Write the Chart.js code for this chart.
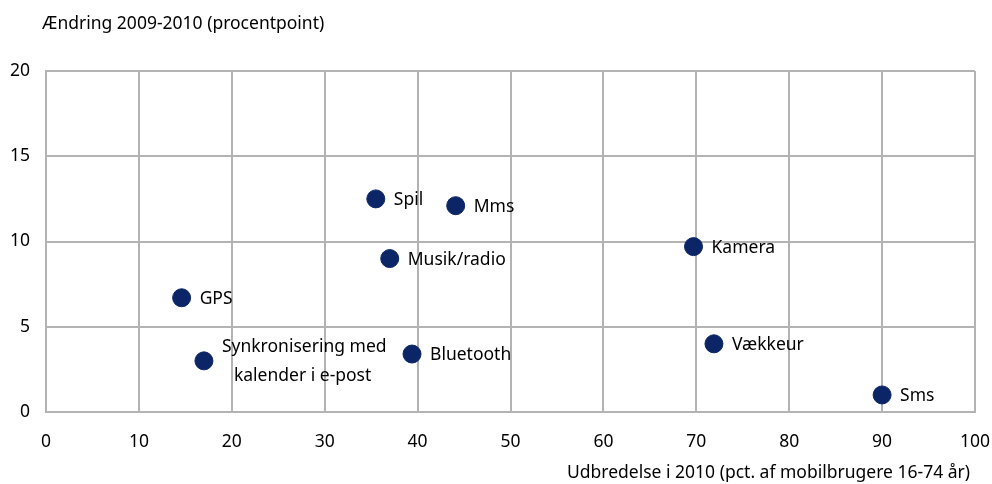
<!DOCTYPE html>
<html>
<head>
<meta charset="utf-8">
<script src="https://cdn.jsdelivr.net/npm/chart.js@4.4.1/dist/chart.umd.min.js"></script>
<style>
  html, body { margin: 0; padding: 0; background: #fff; }
  #wrap { width: 992px; height: 484px; }
</style>
</head>
<body>
<div id="wrap"><canvas id="chart" width="992" height="484"></canvas></div>
<script>
// mobiltjenester: udbredelse 2010 og ændring 2009-2010
const names = ['GPS', 'Synkronisering med|kalender i e-post', 'Spil', 'Musik/radio', 'Mms', 'Bluetooth', 'Kamera', 'Vækkeur', 'Sms'];
const spread = [14.6, 17.0, 35.5, 37.0, 44.1, 39.4, 69.7, 71.9, 90.0];
const change = [6.7, 3.0, 12.5, 9.0, 12.1, 3.4, 9.7, 4.0, 1.0];
const xTicks = [0, 10, 20, 30, 40, 50, 60, 70, 80, 90, 100];
const yTicks = [0, 5, 10, 15, 20];

const FONT = '"Noto Sans", sans-serif';
const SIZE = 17.5;
const gridColor = '#b3b3b3';
const dotColor = '#0b2566';

const points = spread.map((x, i) => ({ x: x, y: change[i], name: names[i] }));

// etiketter ved punkterne + aksetitler
const labelPlugin = {
    id: 'labels',
    afterDatasetsDraw(chart) {
        const ctx = chart.ctx;
        const meta = chart.getDatasetMeta(0);
        ctx.save();
        ctx.fillStyle = '#000';
        ctx.font = SIZE + 'px ' + FONT;
        ctx.textAlign = 'left';
        ctx.textBaseline = 'middle';
        meta.data.forEach((el, i) => {
            const lines = points[i].name.split('|');
            if (lines.length > 1) {
                ctx.fillText(lines[0], el.x + 18, el.y - 14);
                ctx.fillText(lines[1], el.x + 30, el.y + 15);
            } else {
                ctx.fillText(lines[0], el.x + 18, el.y + 1);
            }
        });
        ctx.textBaseline = 'alphabetic';
        ctx.fillText('Ændring 2009-2010 (procentpoint)', 42, 29);
        ctx.textAlign = 'right';
        ctx.fillText('Udbredelse i 2010 (pct. af mobilbrugere 16-74 år)', 970, 478);
        ctx.restore();
    }
};

new Chart(document.querySelector('#chart'), {
    type: 'scatter',
    data: {
        datasets: [{
            data: points,
            backgroundColor: dotColor,
            borderColor: dotColor,
            pointRadius: 9,
            pointHoverRadius: 9,
        }]
    },
    options: {
        responsive: false,
        animation: false,
        layout: { padding: { top: 71, right: 17, left: 0, bottom: 0 } },
        plugins: { legend: { display: false }, tooltip: { enabled: false } },
        scales: {
            x: {
                type: 'linear',
                min: 0, max: 100,
                afterBuildTicks: (axis) => { axis.ticks = xTicks.map(v => ({ value: v })); },
                afterFit: (axis) => {
                    axis.height = 72;
                    axis.paddingLeft = 0;
                    axis.paddingRight = 0;
                },
                grid: { color: gridColor, lineWidth: 2, drawTicks: false },
                border: { color: gridColor, width: 2 },
                ticks: { color: '#000', font: { family: FONT, size: SIZE }, padding: 20, maxRotation: 0 }
            },
            y: {
                type: 'linear',
                min: 0, max: 20,
                afterBuildTicks: (axis) => { axis.ticks = yTicks.map(v => ({ value: v })); },
                afterFit: (axis) => {
                    axis.width = 46;
                    axis.paddingTop = 0;
                    axis.paddingBottom = 0;
                },
                grid: { color: gridColor, lineWidth: 2, drawTicks: false },
                border: { color: gridColor, width: 2 },
                ticks: { color: '#000', font: { family: FONT, size: SIZE }, padding: 16 }
            }
        }
    },
    plugins: [labelPlugin]
});
</script>
</body>
</html>
